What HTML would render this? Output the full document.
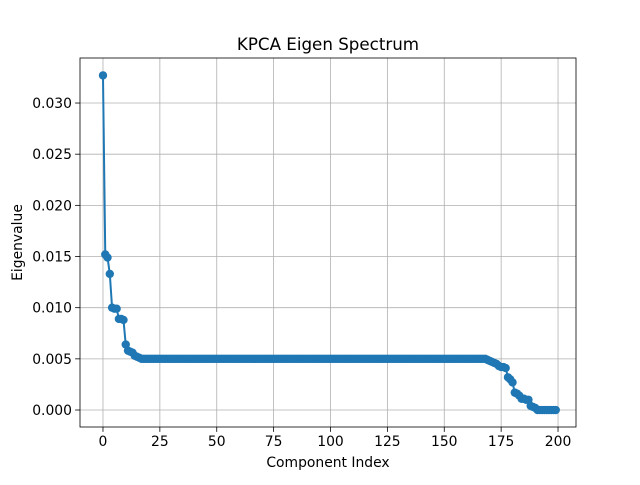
<!DOCTYPE html>
<html><head><meta charset="utf-8"><style>
body{margin:0;background:#fff}
svg text{font-family:"DejaVu Sans","Liberation Sans",sans-serif;fill:#000}
</style></head><body>
<svg id="chart" width="640" height="480">
<rect width="640" height="480" fill="#fff"/>
<g id="grid"></g><g id="ticks"></g><g id="series"></g>
<rect x="80" y="58" width="496" height="369" fill="none" stroke="#000" stroke-width="0.8"/>
<text x="328" y="50" text-anchor="middle" font-size="16.7">KPCA Eigen Spectrum</text>
<text x="328" y="467" text-anchor="middle" font-size="13.9">Component Index</text>
<text transform="translate(22,242.5) rotate(-90)" text-anchor="middle" font-size="13.9">Eigenvalue</text>
</svg>
<script>
const xTicks=[0,25,50,75,100,125,150,175,200];
const yTicks=[0,0.005,0.010,0.015,0.020,0.025,0.030];
const yTickLabels=["0.000","0.005","0.010","0.015","0.020","0.025","0.030"];
const eigenvalues=[
0.0327,0.0152,0.0149,0.0133,0.0100,0.0099,0.0099,0.0089,0.0089,0.0088,
0.0064,0.0058,0.0057,0.0056,0.0053,0.0052,0.0051,0.0050,0.0050,0.0050,
0.0050,0.0050,0.0050,0.0050,0.0050,0.0050,0.0050,0.0050,0.0050,0.0050,
0.0050,0.0050,0.0050,0.0050,0.0050,0.0050,0.0050,0.0050,0.0050,0.0050,
0.0050,0.0050,0.0050,0.0050,0.0050,0.0050,0.0050,0.0050,0.0050,0.0050,
0.0050,0.0050,0.0050,0.0050,0.0050,0.0050,0.0050,0.0050,0.0050,0.0050,
0.0050,0.0050,0.0050,0.0050,0.0050,0.0050,0.0050,0.0050,0.0050,0.0050,
0.0050,0.0050,0.0050,0.0050,0.0050,0.0050,0.0050,0.0050,0.0050,0.0050,
0.0050,0.0050,0.0050,0.0050,0.0050,0.0050,0.0050,0.0050,0.0050,0.0050,
0.0050,0.0050,0.0050,0.0050,0.0050,0.0050,0.0050,0.0050,0.0050,0.0050,
0.0050,0.0050,0.0050,0.0050,0.0050,0.0050,0.0050,0.0050,0.0050,0.0050,
0.0050,0.0050,0.0050,0.0050,0.0050,0.0050,0.0050,0.0050,0.0050,0.0050,
0.0050,0.0050,0.0050,0.0050,0.0050,0.0050,0.0050,0.0050,0.0050,0.0050,
0.0050,0.0050,0.0050,0.0050,0.0050,0.0050,0.0050,0.0050,0.0050,0.0050,
0.0050,0.0050,0.0050,0.0050,0.0050,0.0050,0.0050,0.0050,0.0050,0.0050,
0.0050,0.0050,0.0050,0.0050,0.0050,0.0050,0.0050,0.0050,0.0050,0.0050,
0.0050,0.0050,0.0050,0.0050,0.0050,0.0050,0.0050,0.0050,0.0050,0.0049,
0.0048,0.0047,0.0046,0.0045,0.0043,0.0042,0.0042,0.0041,0.0032,0.0030,
0.0027,0.0017,0.0016,0.0014,0.0011,0.0011,0.0010,0.0010,0.0004,0.0003,
0.0002,0.0000,0.0000,0.0000,0.0000,0.0000,0.0000,0.0000,0.0000,0.0000];
const NS="http://www.w3.org/2000/svg";
const L=80,R=576,T=58,B=427;
const xMin=-10.1,xMax=207.9,yMin=-0.00166,yMax=0.0344;
const sx=v=>L+(v-xMin)/(xMax-xMin)*(R-L);
const sy=v=>B-(v-yMin)/(yMax-yMin)*(B-T);
function mk(tag,attrs,parent){const e=document.createElementNS(NS,tag);for(const k in attrs)e.setAttribute(k,attrs[k]);parent.appendChild(e);return e;}
const grid=document.getElementById('grid'),ticks=document.getElementById('ticks'),series=document.getElementById('series');
xTicks.forEach(t=>{const x=sx(t);
 const g=mk('line',{x1:x,x2:x,y1:T,y2:B,stroke:'#b0b0b0','stroke-width':0.8},grid);
 
 
 mk('line',{x1:x,x2:x,y1:B,y2:B+4.9,stroke:'#000','stroke-width':0.8},ticks);
 const tx=mk('text',{x:x,y:B+19,'text-anchor':'middle','font-size':13.9},ticks);tx.textContent=t;
 
 
});
yTicks.forEach((t,i)=>{const y=sy(t);
 const g=mk('line',{x1:L,x2:R,y1:y,y2:y,stroke:'#b0b0b0','stroke-width':0.8},grid);
 
 
 mk('line',{x1:L-4.9,x2:L,y1:y,y2:y,stroke:'#000','stroke-width':0.8},ticks);
 const tx=mk('text',{x:L-8,y:y+5,'text-anchor':'end','font-size':13.9},ticks);tx.textContent=yTickLabels[i];
 
 
});
const pts=eigenvalues.map((v,i)=>sx(i).toFixed(2)+','+sy(v).toFixed(2)).join(' ');
const line=mk('polyline',{points:pts,fill:'none',stroke:'#1f77b4','stroke-width':2},series);


eigenvalues.forEach((v,i)=>{
 const c=mk('circle',{cx:sx(i),cy:sy(v),r:4.2,fill:'#1f77b4'},series);
 
 
});
</script>
</body></html>
